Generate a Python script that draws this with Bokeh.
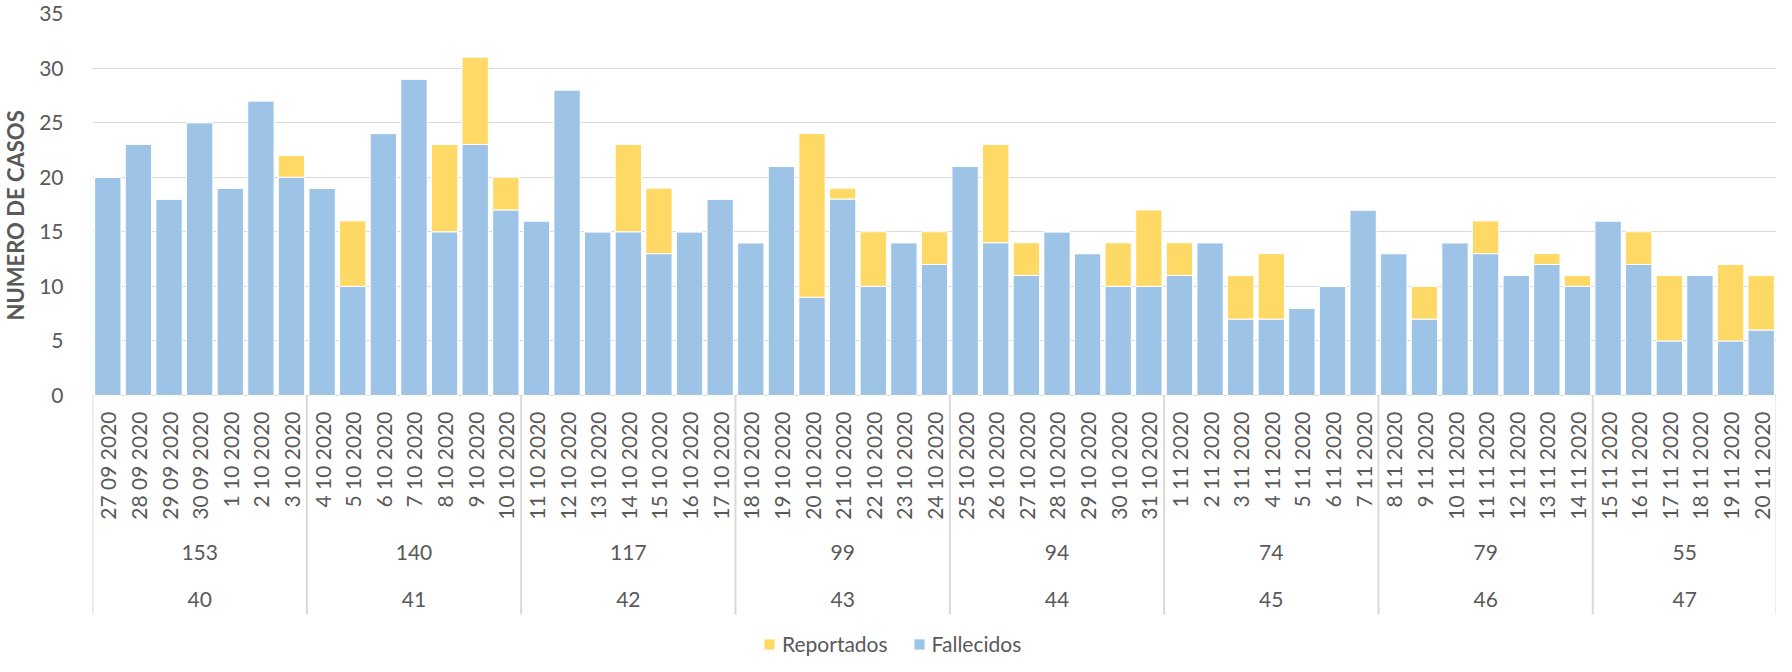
import math
from bokeh.plotting import figure
from bokeh.layouts import row
from bokeh.models import (FactorRange, Range1d, Legend, LegendItem, ColumnDataSource,
                          FixedTicker)
from bokeh.core.properties import value
from bokeh.embed import file_html
from bokeh.resources import INLINE

# ---------------- data ----------------
weeks = ["40", "41", "42", "43", "44", "45", "46", "47"]
week_totals = ["153", "140", "117", "99", "94", "74", "79", "55"]
days_per_week = [7, 7, 7, 7, 7, 7, 7, 6]

dates = [
    "27 09 2020", "28 09 2020", "29 09 2020", "30 09 2020", "1 10 2020", "2 10 2020", "3 10 2020",
    "4 10 2020", "5 10 2020", "6 10 2020", "7 10 2020", "8 10 2020", "9 10 2020", "10 10 2020",
    "11 10 2020", "12 10 2020", "13 10 2020", "14 10 2020", "15 10 2020", "16 10 2020", "17 10 2020",
    "18 10 2020", "19 10 2020", "20 10 2020", "21 10 2020", "22 10 2020", "23 10 2020", "24 10 2020",
    "25 10 2020", "26 10 2020", "27 10 2020", "28 10 2020", "29 10 2020", "30 10 2020", "31 10 2020",
    "1 11 2020", "2 11 2020", "3 11 2020", "4 11 2020", "5 11 2020", "6 11 2020", "7 11 2020",
    "8 11 2020", "9 11 2020", "10 11 2020", "11 11 2020", "12 11 2020", "13 11 2020", "14 11 2020",
    "15 11 2020", "16 11 2020", "17 11 2020", "18 11 2020", "19 11 2020", "20 11 2020",
]

fallecidos = [
    20, 23, 18, 25, 19, 27, 20,
    19, 10, 24, 29, 15, 23, 17,
    16, 28, 15, 15, 13, 15, 18,
    14, 21, 9, 18, 10, 14, 12,
    21, 14, 11, 15, 13, 10, 10,
    11, 14, 7, 7, 8, 10, 17,
    13, 7, 14, 13, 11, 12, 10,
    16, 12, 5, 11, 5, 6,
]

reportados = [
    0, 0, 0, 0, 0, 0, 2,
    0, 6, 0, 0, 8, 8, 3,
    0, 0, 0, 8, 6, 0, 0,
    0, 0, 15, 1, 5, 0, 3,
    0, 9, 3, 0, 0, 4, 7,
    3, 0, 4, 6, 0, 0, 0,
    0, 3, 0, 3, 0, 1, 1,
    0, 3, 6, 0, 7, 5,
]

y_ticks = [0, 5, 10, 15, 20, 25, 30, 35]
y_title = "NUMERO DE CASOS"

# ---------------- styling / layout ----------------
BLUE = "#9DC3E6"
YELLOW = "#FFD966"
GREY = "#595959"
LIGHT = "#D9D9D9"
FONT = "Lato"

TOTAL_W, H = 1776, 656
TITLE_W = 36             # strip holding the vertical y title
W = TOTAL_W - TITLE_W
TOP = 13                 # frame top (px from canvas top)
FRAME_H = H - TOP        # frame runs to the bottom of the canvas
AXIS_PX = 382            # pixel distance from 0 to 35
Y_MAX = 35
PPU = AXIS_PX / Y_MAX    # pixels per unit
Y_MIN = -(FRAME_H - AXIS_PX) / PPU


def below(px):
    """data y for a point `px` pixels below the category axis"""
    return -px / PPU


# week boundaries / centres on the categorical (synthetic) scale
bounds = [0]
for n in days_per_week:
    bounds.append(bounds[-1] + n)
centres = [(a + b) / 2 for a, b in zip(bounds[:-1], bounds[1:])]

src = ColumnDataSource(dict(x=dates, Fallecidos=fallecidos, Reportados=reportados))
wk_src = ColumnDataSource(dict(cx=centres, week=weeks, total=week_totals))
sep_src = ColumnDataSource(dict(bx=bounds))

xr = FactorRange(*dates, factor_padding=0, range_padding=0)

p = figure(x_range=xr, y_range=Range1d(Y_MIN, Y_MAX), width=W, height=H,
           output_backend="svg", toolbar_location=None,
           min_border_left=48, min_border_right=0, min_border_top=TOP, min_border_bottom=0)

rs = p.vbar_stack(["Fallecidos", "Reportados"], x="x", width=0.86, source=src,
                  fill_color=[BLUE, YELLOW], line_color="white", line_width=1)

p.outline_line_color = None
p.xgrid.grid_line_color = None
p.ygrid.grid_line_color = LIGHT
p.ygrid.grid_line_width = 1
p.xaxis.visible = False

# y axis
yax = p.yaxis[0]
yax.ticker = FixedTicker(ticks=y_ticks)
yax.axis_line_color = None
yax.major_tick_line_color = None
yax.minor_tick_line_color = None
yax.major_label_text_font = FONT
yax.major_label_text_font_size = "21px"
yax.major_label_text_color = GREY
yax.major_label_standoff = 23

# category separators (between weeks, down through the label rows)
p.segment(x0="bx", y0=0, x1="bx", y1=below(219), source=sep_src,
          line_color=LIGHT, line_width=2)

# date labels (vertical, reading upwards)
p.text(x="x", y=below(16), text="x", source=src, angle=math.pi / 2,
       text_align="right", text_baseline="middle",
       text_font=value(FONT), text_font_size="21px", text_color=GREY)

# weekly totals and week numbers
p.text(x="cx", y=below(157), text="total", source=wk_src,
       text_align="center", text_baseline="middle",
       text_font=value(FONT), text_font_size="21px", text_color=GREY)
p.text(x="cx", y=below(204), text="week", source=wk_src,
       text_align="center", text_baseline="middle",
       text_font=value(FONT), text_font_size="21px", text_color=GREY)

legend = Legend(items=[LegendItem(label="Reportados", renderers=[rs[1]]),
                       LegendItem(label="Fallecidos", renderers=[rs[0]])],
                orientation="horizontal", location=(670, 0),
                border_line_color=None, background_fill_alpha=0,
                glyph_width=14, glyph_height=14, label_standoff=6,
                label_text_font=FONT, label_text_font_size="21px",
                label_text_color=GREY, spacing=24, padding=0, margin=0)
p.add_layout(legend, "center")

# ---------------- y title strip (pixel coordinates, y downwards) ----------------
t = figure(width=TITLE_W, height=H, x_range=Range1d(0, TITLE_W), y_range=Range1d(H, 0),
           output_backend="svg", toolbar_location=None, min_border=0)
t.axis.visible = False
t.grid.visible = False
t.outline_line_color = None
t.text(x=[14.5], y=[206], text=[y_title], angle=math.pi / 2,
       text_align="center", text_baseline="middle",
       text_font=value(FONT), text_font_size="22px", text_font_style="bold",
       text_color=GREY)

layout = row(t, p, spacing=0)
open("out.html", "w").write(file_html(layout, INLINE))
